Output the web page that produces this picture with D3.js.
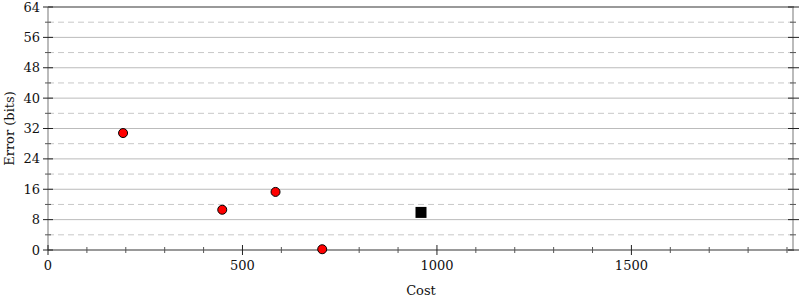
<!DOCTYPE html>
<html>
<head>
<meta charset="utf-8">
<script src="https://cdn.jsdelivr.net/npm/d3@7"></script>
<style>
  body { margin: 0; background: #fff; }
  text { font-family: "DejaVu Serif", serif; font-size: 13px; fill: #111; }
</style>
</head>
<body>
<div id="chart"></div>
<script>
// values
const circleCost  = [193, 448, 585, 705]
const circleError = [30.8, 10.6, 15.3, 0.2]
const squareCost  = [959]
const squareError = [9.9]
const xTicks = [0, 500, 1000, 1500]
const yTicks = [0, 8, 16, 24, 32, 40, 48, 56, 64]

const width = 800, height = 300
const margin = { top: 7, right: 6, bottom: 50, left: 48 }

const svg = d3.select("#chart")
    .append("svg")
    .attr("width", width)
    .attr("height", height)

const x = d3.scaleLinear()
    .domain([0, 1918])
    .range([margin.left, width - margin.right])

const y = d3.scaleLinear()
    .domain([0, 64])
    .range([height - margin.bottom, margin.top])

// horizontal grid: solid at majors, dashed at minors
const minorY = d3.range(4, 64, 8)
svg.append("g")
    .selectAll("line")
    .data(yTicks.slice(1, -1))
    .join("line")
    .attr("x1", x(0)).attr("x2", x.range()[1])
    .attr("y1", d => y(d)).attr("y2", d => y(d))
    .attr("stroke", "#bbb")

svg.append("g")
    .selectAll("line")
    .data(minorY)
    .join("line")
    .attr("x1", x(0)).attr("x2", x.range()[1])
    .attr("y1", d => y(d)).attr("y2", d => y(d))
    .attr("stroke", "#c8c8c8")
    .attr("stroke-dasharray", "6,4")

// frame
svg.append("line") // left
    .attr("x1", x(0)).attr("x2", x(0))
    .attr("y1", y(0)).attr("y2", y(64))
    .attr("stroke", "#bbb").attr("stroke-width", 2)
svg.append("line") // right
    .attr("x1", x.range()[1] - 1).attr("x2", x.range()[1] - 1)
    .attr("y1", y(0)).attr("y2", y(64))
    .attr("stroke", "#bbb").attr("stroke-width", 2)
svg.append("line") // top
    .attr("x1", x(0)).attr("x2", x.range()[1])
    .attr("y1", y(64)).attr("y2", y(64))
    .attr("stroke", "#999").attr("stroke-width", 2)
svg.append("line") // bottom
    .attr("x1", x(0)).attr("x2", x.range()[1])
    .attr("y1", y(0)).attr("y2", y(0))
    .attr("stroke", "#999").attr("stroke-width", 2)

// y ticks on both sides
const xr = x.range()[1] - 1
svg.append("g").selectAll("line")
    .data(yTicks)
    .join("line")
    .attr("x1", x(0) - 5).attr("x2", x(0) + 5)
    .attr("y1", d => y(d)).attr("y2", d => y(d))
    .attr("stroke", "#222")
svg.append("g").selectAll("line")
    .data(yTicks)
    .join("line")
    .attr("x1", xr - 5).attr("x2", xr + 6)
    .attr("y1", d => y(d)).attr("y2", d => y(d))
    .attr("stroke", "#222")
svg.append("g").selectAll("line")
    .data(minorY)
    .join("line")
    .attr("x1", x(0) - 3).attr("x2", x(0) + 3)
    .attr("y1", d => y(d)).attr("y2", d => y(d))
    .attr("stroke", "#555")
svg.append("g").selectAll("line")
    .data(minorY)
    .join("line")
    .attr("x1", xr - 3).attr("x2", xr + 3)
    .attr("y1", d => y(d)).attr("y2", d => y(d))
    .attr("stroke", "#555")

svg.append("g").selectAll("text")
    .data(yTicks)
    .join("text")
    .attr("x", x(0) - 8)
    .attr("y", d => y(d))
    .attr("dy", "0.35em")
    .attr("text-anchor", "end")
    .text(d => d)

// x ticks
svg.append("g").selectAll("line")
    .data(xTicks)
    .join("line")
    .attr("x1", d => x(d)).attr("x2", d => x(d))
    .attr("y1", y(0) - 5).attr("y2", y(0) + 5)
    .attr("stroke", "#222")
svg.append("g").selectAll("line")
    .data(d3.range(100, 1901, 100).filter(d => d % 500 != 0))
    .join("line")
    .attr("x1", d => x(d)).attr("x2", d => x(d))
    .attr("y1", y(0) - 3).attr("y2", y(0) + 3)
    .attr("stroke", "#555")

svg.append("g").selectAll("text")
    .data(xTicks)
    .join("text")
    .attr("x", d => x(d))
    .attr("y", y(0) + 20)
    .attr("text-anchor", "middle")
    .text(d => d)

// axis titles
svg.append("text")
    .attr("x", (x.range()[0] + x.range()[1]) / 2)
    .attr("y", 295)
    .attr("text-anchor", "middle")
    .text("Cost")

svg.append("text")
    .attr("transform", `translate(14,${(y(0) + y(64)) / 2}) rotate(-90)`)
    .attr("text-anchor", "middle")
    .text("Error (bits)")

// marks
svg.append("g").selectAll("circle")
    .data(circleCost)
    .join("circle")
    .attr("cx", d => x(d))
    .attr("cy", (d, i) => y(circleError[i]))
    .attr("r", 4.5)
    .attr("fill", "red")
    .attr("stroke", "#000")

svg.append("g").selectAll("rect")
    .data(squareCost)
    .join("rect")
    .attr("x", d => x(d) - 5.5)
    .attr("y", (d, i) => y(squareError[i]) - 5.5)
    .attr("width", 11)
    .attr("height", 11)
    .attr("fill", "#000")
</script>
</body>
</html>
